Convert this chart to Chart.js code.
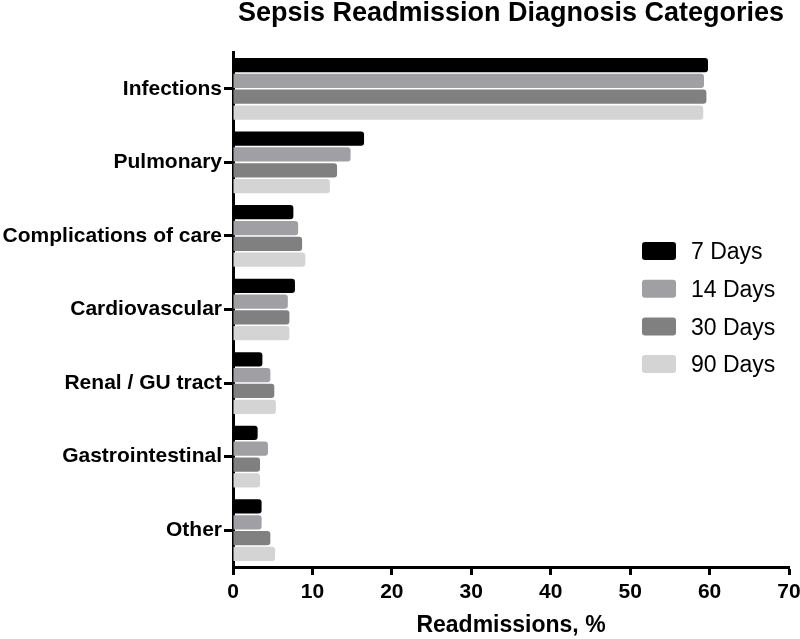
<!DOCTYPE html>
<html>
<head>
<meta charset="utf-8">
<script src="https://cdn.jsdelivr.net/npm/chart.js@4/dist/chart.umd.min.js"></script>
<style>
  html, body { margin: 0; padding: 0; background: #fff; }
  #wrap { width: 800px; height: 639px; }
</style>
</head>
<body>
<div id="wrap"><canvas id="grafico" width="800" height="639"></canvas></div>
<script>
const categorias = ["Infections", "Pulmonary", "Complications of care", "Cardiovascular", "Renal / GU tract", "Gastrointestinal", "Other"];
const dias7 = [59.8, 16.5, 7.6, 7.8, 3.7, 3.1, 3.6];
const dias14 = [59.3, 14.8, 8.2, 6.9, 4.7, 4.4, 3.6];
const dias30 = [59.6, 13.1, 8.7, 7.1, 5.2, 3.4, 4.7];
const dias90 = [59.2, 12.2, 9.1, 7.1, 5.4, 3.4, 5.3];
const etiquetas = ["7 Days", "14 Days", "30 Days", "90 Days"];
const colores = ["#000000", "#a0a0a4", "#808080", "#d4d4d4"];

const fuente = "'Liberation Sans', Arial, sans-serif";

// title + legend drawn relative to the chart area
const extras = {
  id: "extras",
  afterDraw(chart) {
    const ctx = chart.ctx;
    const area = chart.chartArea;
    ctx.save();
    ctx.fillStyle = "#000";
    ctx.font = "bold 27px " + fuente;
    ctx.textAlign = "center";
    ctx.textBaseline = "middle";
    ctx.fillText("Sepsis Readmission Diagnosis Categories", (area.left + area.right) / 2, 14);

    ctx.font = "23px " + fuente;
    ctx.textAlign = "left";
    chart.data.datasets.forEach((ds, i) => {
      const y = 251 + i * 37.7;
      ctx.fillStyle = ds.backgroundColor;
      ctx.beginPath();
      ctx.roundRect(642, y - 9, 34, 18, 3);
      ctx.fill();
      ctx.fillStyle = "#000";
      ctx.fillText(ds.label, 691, y + 2);
    });
    ctx.restore();
  }
};

const series = [dias7, dias14, dias30, dias90];
new Chart(document.getElementById("grafico").getContext("2d"), {
  type: "bar",
  data: {
    labels: categorias,
    datasets: series.map((d, i) => ({
      label: etiquetas[i],
      data: d,
      backgroundColor: colores[i],
      borderRadius: 3,
      borderSkipped: "start",
      categoryPercentage: 0.86,
      barPercentage: 0.9
    }))
  },
  options: {
    indexAxis: "y",
    responsive: false,
    animation: false,
    layout: { padding: { top: 52, right: 11, left: 0, bottom: 0 } },
    plugins: {
      legend: { display: false },
      title: { display: false },
      tooltip: { enabled: false }
    },
    scales: {
      x: {
        min: 0,
        max: 70,
        ticks: { stepSize: 10, color: "#000", font: { family: fuente, size: 21, weight: "bold" }, padding: 5 },
        grid: { display: true, drawOnChartArea: false, drawTicks: true, tickLength: 8, tickColor: "#000", tickWidth: 3 },
        border: { display: true, color: "#000", width: 3 },
        title: { display: true, text: "Readmissions, %", color: "#000", font: { family: fuente, size: 23, weight: "bold" }, padding: { top: 6, bottom: 0 } },
        afterFit(scale) { scale.height = 72; scale.paddingRight = 0; }
      },
      y: {
        ticks: { color: "#000", font: { family: fuente, size: 21, weight: "bold" }, padding: 2 },
        grid: { display: true, offset: false, drawOnChartArea: false, drawTicks: true, tickLength: 9, tickColor: "#000", tickWidth: 3 },
        border: { display: true, color: "#000", width: 3 },
        afterFit(scale) { scale.width = 233; }
      }
    }
  },
  plugins: [extras]
});
</script>
</body>
</html>
